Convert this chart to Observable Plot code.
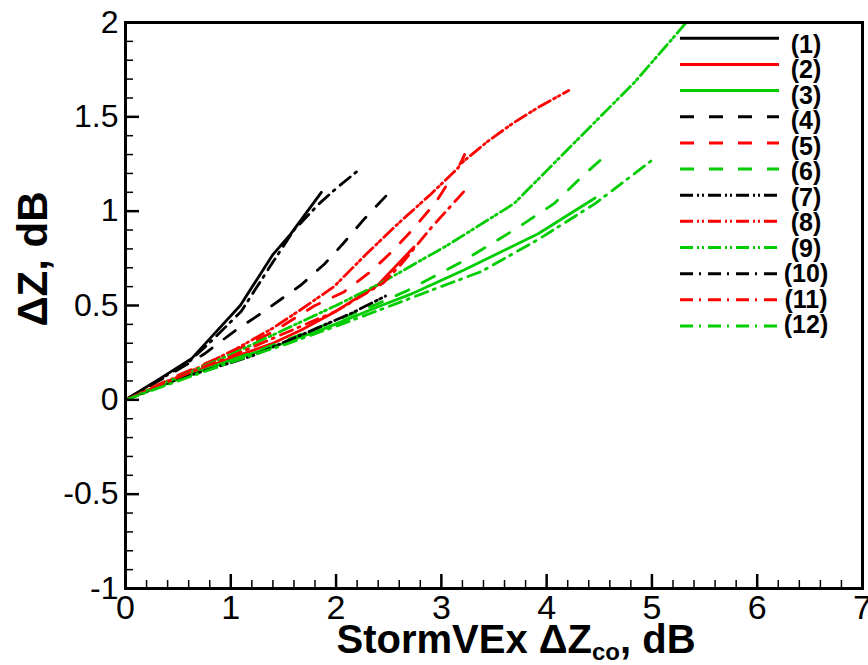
<!DOCTYPE html>
<html><head><meta charset="utf-8">
<script src="https://cdn.jsdelivr.net/npm/d3@7"></script>
<script src="https://cdn.jsdelivr.net/npm/@observablehq/plot@0.6"></script>
<style>
html,body{margin:0;padding:0;background:#fff;}
#chart{position:absolute;left:0;top:0;}
</style></head><body><div id="chart"></div>
<script>
// ---- data ----
const seriesNames = ["(1)","(2)","(3)","(4)","(5)","(6)","(7)","(8)","(9)","(10)","(11)","(12)"];
const x1 = [0,0.32,0.63,0.86,1.09,1.4,1.57,1.86];
const y1 = [0,0.11,0.22,0.36,0.50,0.77,0.88,1.10];
const x2 = [0,0.5,1.0,1.4,1.67,2.0,2.4,2.74];
const y2 = [0,0.12,0.22,0.30,0.37,0.47,0.61,0.81];
const x3 = [0,0.5,1.0,1.4,1.9,2.43,2.71,3.22,3.92,4.46];
const y3 = [0,0.11,0.21,0.28,0.38,0.50,0.56,0.69,0.88,1.07];
const x4 = [0,0.5,0.74,1.05,1.28,1.67,1.89,2.07,2.27,2.49];
const y4 = [0,0.16,0.24,0.37,0.455,0.61,0.72,0.83,0.96,1.09];
const x5 = [0,0.5,1.0,1.4,1.8,2.07,2.33,2.52,2.74,2.95,3.11];
const y5 = [0,0.13,0.25,0.36,0.50,0.57,0.68,0.78,0.91,1.05,1.19];
const x6 = [0,0.5,1.0,1.5,2.0,2.4,2.68,3.19,3.69,4.07,4.33,4.61];
const y6 = [0,0.11,0.21,0.31,0.42,0.51,0.58,0.73,0.90,1.04,1.18,1.32];
const x7 = [0,0.5,1.19,1.82,2.15,2.47];
const y7 = [0,0.11,0.23,0.38,0.46,0.55];
const x8 = [0,0.4,0.73,1.05,1.4,1.67,1.98,2.3,2.62,2.9,3.16,3.22,3.18,3.44,3.69,3.92,4.21];
const y8 = [0,0.10,0.18,0.27,0.38,0.48,0.60,0.78,0.95,1.09,1.23,1.30,1.25,1.37,1.47,1.55,1.64];
const x9 = [0,0.5,1.0,1.5,2.0,2.43,3.06,3.69,4.33,4.83,5.25,5.4];
const y9 = [0,0.12,0.24,0.37,0.50,0.62,0.82,1.04,1.40,1.68,1.95,2.05];
const x10 = [0,0.3,0.6,0.85,1.1,1.4,1.6,1.84,2.0,2.22];
const y10 = [0,0.10,0.20,0.33,0.47,0.73,0.90,1.04,1.12,1.22];
const x11 = [0,0.5,1.0,1.5,2.0,2.45,2.62,2.9,3.24];
const y11 = [0,0.12,0.23,0.35,0.47,0.62,0.72,0.91,1.12];
const x12 = [0,0.5,1.0,1.5,2.0,2.43,2.9,3.38,3.92,4.46,5.0];
const y12 = [0,0.10,0.20,0.29,0.39,0.48,0.58,0.68,0.85,1.04,1.27];
const xMajorTicks = [0,1,2,3,4,5,6,7];
const yMajorTicks = [-1,-0.5,0,0.5,1,1.5,2];

// ---- styles ----
const BLACK = "#000000", RED = "#ff0000", GREEN = "#00cc00";
const colorOf = [BLACK, RED, GREEN];
const dashOf = [null, "14,15", "13,4,2,3,2,4", "13,6,2,7"];
const xs = [x1,x2,x3,x4,x5,x6,x7,x8,x9,x10,x11,x12];
const ys = [y1,y2,y3,y4,y5,y6,y7,y8,y9,y10,y11,y12];
const series = seriesNames.map((name, i) => ({
  name,
  color: colorOf[i % 3],
  dash: dashOf[Math.floor(i / 3)],
  rows: xs[i].map((x, j) => ({x, y: ys[i][j]}))
}));

const minorX = d3.range(0, 36).map(i => i * 0.2).filter(v => Math.abs(v - Math.round(v)) > 1e-6);
const minorY = d3.range(-10, 21).map(i => i * 0.1).filter(v => Math.abs(v * 2 - Math.round(v * 2)) > 1e-6);

const W = 868, H = 665, ML = 125, MR = 6, MT = 22, MB = 77;
const FONT = "'Liberation Sans', Arial, sans-serif";

const lineMarks = series.map(s => Plot.line(s.rows, {
  x: "x", y: "y", stroke: s.color, strokeWidth: 2.8,
  strokeDasharray: s.dash || undefined, clip: true
}));

const plot = Plot.plot({
  width: W, height: H,
  marginLeft: ML, marginRight: MR, marginTop: MT, marginBottom: MB,
  x: {domain: [0, 7]},
  y: {domain: [-1, 2]},
  style: {fontFamily: FONT, color: "#000", background: "#fff", overflow: "visible"},
  marks: [
    ...lineMarks,
    Plot.axisX({ticks: minorX, tickSize: -8, tickFormat: () => "", strokeWidth: 1.5, stroke: "#000", label: null}),
    Plot.axisX({ticks: xMajorTicks, tickSize: -14, tickFormat: () => "", strokeWidth: 2.5, stroke: "#000", label: null}),
    Plot.axisY({ticks: minorY, tickSize: -8, tickFormat: () => "", strokeWidth: 1.5, stroke: "#000", label: null}),
    Plot.axisY({ticks: yMajorTicks, tickSize: -14, tickFormat: () => "", strokeWidth: 2.5, stroke: "#000", label: null}),
    Plot.axisX({ticks: xMajorTicks, tickSize: 0, tickPadding: 6, tickFormat: d => String(d), fontSize: 34, fill: "#000", label: null}),
    Plot.axisY({ticks: yMajorTicks, tickSize: 0, tickPadding: 7, tickFormat: d => String(d), fontSize: 32, fill: "#000", label: null}),
    Plot.frame({stroke: "#000", strokeWidth: 3})
  ]
});
document.getElementById("chart").appendChild(plot);

// ---- axis titles and legend (drawn into the same SVG) ----
const svg = d3.select(plot);
const xt = svg.append("text")
  .attr("x", 516).attr("y", 653)
  .attr("text-anchor", "middle")
  .attr("font-family", FONT)
  .attr("font-weight", "bold").attr("font-size", 40).attr("fill", "#000");
xt.append("tspan").text("StormVEx \u0394Z");
xt.append("tspan").attr("font-size", 24).attr("dy", 7).text("co");
xt.append("tspan").attr("dy", -7).text(", dB");

svg.append("text")
  .attr("transform", "translate(47,259) rotate(-90)")
  .attr("text-anchor", "middle")
  .attr("font-family", FONT)
  .attr("font-weight", "bold").attr("font-size", 42).attr("fill", "#000")
  .text("\u0394Z, dB");

const leg = svg.append("g");
series.forEach((s, i) => {
  const ly = 38.3 + i * 26.15;
  leg.append("line")
    .attr("x1", 680).attr("x2", 779).attr("y1", ly).attr("y2", ly)
    .attr("stroke", s.color).attr("stroke-width", 3)
    .attr("stroke-dasharray", s.dash || null);
  leg.append("text")
    .attr("x", 806).attr("y", 44 + i * 25.45)
    .attr("dominant-baseline", "central")
    .attr("font-family", FONT)
    .attr("font-weight", "bold").attr("font-size", 25).attr("fill", "#000")
    .text(s.name);
});
</script>
</body></html>
